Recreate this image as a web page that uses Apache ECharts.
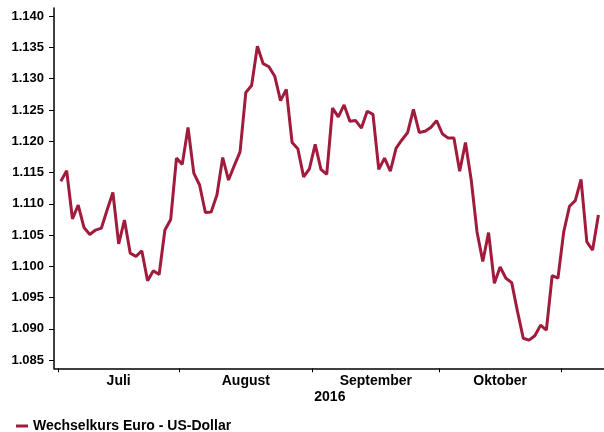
<!DOCTYPE html>
<html>
<head>
<meta charset="utf-8">
<script src="https://cdn.jsdelivr.net/npm/echarts@6/dist/echarts.min.js"></script>
<style>
html,body{margin:0;padding:0;background:#fff;}
#main{width:604px;height:432px;}
</style>
</head>
<body>
<div id="main"></div>
<script>
// Euro / US-Dollar daily rates, 1 July 2016 - 9 Nov 2016 (trading days)
const rates = [
  1.1136, 1.1153, 1.1076, 1.1098, 1.1062, 1.1051, 1.1058, 1.1061, 1.1090, 1.1118,
  1.1036, 1.1074, 1.1021, 1.1016, 1.1025, 1.0977, 1.0993, 1.0987, 1.1058, 1.1075,
  1.1173, 1.1163, 1.1222, 1.1149, 1.1130, 1.1086, 1.1087, 1.1114, 1.1174, 1.1138,
  1.1161, 1.1183, 1.1278, 1.1289, 1.1352, 1.1324, 1.1319, 1.1304, 1.1265, 1.1283,
  1.1198, 1.1188, 1.1143, 1.1156, 1.1195, 1.1155, 1.1147, 1.1253, 1.1239, 1.1258,
  1.1232, 1.1233, 1.1221, 1.1248, 1.1243, 1.1155, 1.1173, 1.1152, 1.1189, 1.1202,
  1.1214, 1.1251, 1.1214, 1.1216, 1.1222, 1.1233, 1.1212, 1.1205, 1.1205, 1.1152,
  1.1198, 1.1138, 1.1055, 1.1008, 1.1054, 1.0973, 1.0999, 1.0981, 1.0974, 1.0928,
  1.0885, 1.0882, 1.0889, 1.0906, 1.0898, 1.0985, 1.0981, 1.1055, 1.1096, 1.1105,
  1.1139, 1.1039, 1.1026, 1.1082
];
const months = ['Juli', 'August', 'September', 'Oktober'];
const monthStarts = [0, 21, 44, 66, 87];   // index of first trading day of each month
const yearLabel = '2016';
const yTicks = [1.085, 1.090, 1.095, 1.100, 1.105, 1.110, 1.115, 1.120, 1.125, 1.130, 1.135, 1.140];
const seriesName = 'Wechselkurs Euro - US-Dollar';

const tickVals = monthStarts.map(i => i - 0.5);
const labelVals = months.map((m, k) => (monthStarts[k] + monthStarts[k + 1] - 1) / 2);

const FONT = '"Liberation Sans", Arial, sans-serif';
const chart = echarts.init(document.getElementById('main'), null, {renderer: 'canvas'});
chart.setOption({
  animation: false,
  backgroundColor: '#ffffff',
  textStyle: {fontFamily: FONT},
  grid: {left: 54, right: 0, top: 8, bottom: 63.7, containLabel: false},
  xAxis: {
    type: 'value',
    min: -1.19,
    max: 93.97,
    splitLine: {show: false},
    axisLine: {show: true, onZero: false, lineStyle: {color: '#000', width: 1.5}},
    axisTick: {show: true, customValues: tickVals, length: 4, lineStyle: {color: '#000', width: 1}},
    axisLabel: {
      customValues: labelVals,
      formatter: v => { const k = labelVals.findIndex(x => Math.abs(x - v) < 0.01); return k >= 0 ? months[k] : ''; },
      color: '#000', fontWeight: 'bold', fontSize: 14, fontFamily: FONT, margin: 6
    }
  },
  yAxis: {
    type: 'value',
    min: 1.0837,
    max: 1.1413,
    splitLine: {show: false},
    axisLine: {show: true, onZero: false, lineStyle: {color: '#000', width: 1.5}},
    axisTick: {show: true, customValues: yTicks, length: 5, lineStyle: {color: '#000', width: 1}},
    axisLabel: {
      customValues: yTicks,
      formatter: v => v.toFixed(3),
      color: '#000', fontWeight: 'bold', fontSize: 13, fontFamily: FONT, margin: 10
    }
  },
  legend: {
    show: true,
    left: 16,
    top: 419,
    padding: 0,
    icon: 'rect',
    itemWidth: 12,
    itemHeight: 3,
    textStyle: {color: '#000', fontWeight: 'bold', fontSize: 14, fontFamily: FONT},
    data: [seriesName]
  },
  series: [{
    name: seriesName,
    type: 'line',
    data: rates.map((v, i) => [i, v]),
    showSymbol: false,
    symbol: 'none',
    lineStyle: {color: '#a01b3c', width: 3},
    itemStyle: {color: '#a01b3c'}
  }]
});
const px = chart.convertToPixel({gridIndex: 0}, [monthStarts[2] - 0.5, 1.0837]);
chart.setOption({
  graphic: [{
    type: 'text',
    left: px[0] + 2,
    top: 390,
    style: {text: yearLabel, fill: '#000', font: 'bold 14px ' + FONT}
  }]
});
</script>
</body>
</html>
